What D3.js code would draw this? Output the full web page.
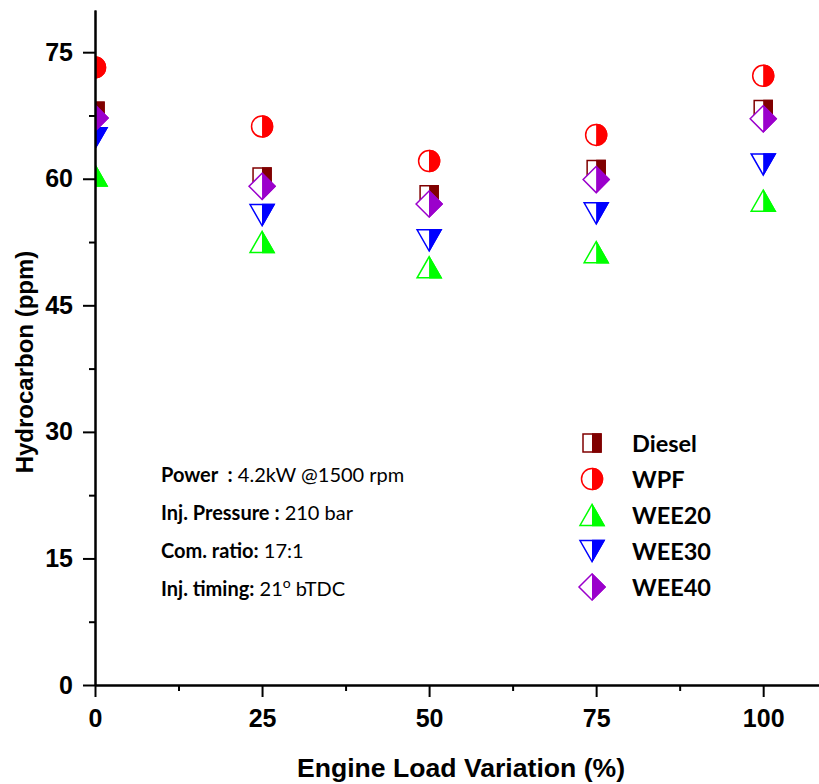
<!DOCTYPE html>
<html>
<head>
<meta charset="utf-8">
<script src="https://cdn.jsdelivr.net/npm/d3@7"></script>
<style>
  body { margin: 0; background: #fff; }
  .axis path, .axis line { stroke: #000; stroke-width: 2; }
  .axis text { font-family: "Liberation Sans", Arial, sans-serif; font-weight: bold; font-size: 25px; fill: #000; }
</style>
</head>
<body>
<div id="chart"></div>
<script>
// engine load (%) on x, hydrocarbon (ppm) on y
var loads = [0, 25, 50, 75, 100];
var diesel = [68.0, 60.2, 58.1, 61.1, 68.2];
var wpf    = [73.2, 66.2, 62.1, 65.2, 72.2];
var wee20  = [60.4, 52.5, 49.5, 51.3, 57.4];
var wee30  = [64.8, 55.7, 52.7, 55.9, 61.7];
var wee40  = [67.2, 59.1, 57.0, 59.9, 67.1];

var seriesNames = ["Diesel", "WPF", "WEE20", "WEE30", "WEE40"];
var seriesValues = [diesel, wpf, wee20, wee30, wee40];
var xTicks = [0, 25, 50, 75, 100];
var yTicks = [0, 15, 30, 45, 60, 75];

var colors = ["#800000", "#ff0000", "#00ff00", "#0000ff", "#9b00cc"];
var shapes = {
  Diesel: "M-9,-9H9V9H-9Z",
  WPF: d3.symbol(d3.symbolCircle, Math.PI * 10.5 * 10.5)(),
  WEE20: "M0,-10.5L12,10.5L-12,10.5Z",
  WEE30: "M0,10.5L12,-10.5L-12,-10.5Z",
  WEE40: "M0,-13L13,0L0,13L-13,0Z"
};

var W = 819, H = 784;
var svg = d3.select("#chart").append("svg")
    .attr("width", W)
    .attr("height", H);

var x = d3.scaleLinear().domain([0, 110]).range([95, 830]);
var y = d3.scaleLinear().domain([0, 80]).range([685, 10]);

var defs = svg.append("defs");
defs.append("clipPath").attr("id", "plotclip")
  .append("rect")
    .attr("x", x(0)).attr("y", y(80))
    .attr("width", W - x(0)).attr("height", y(0) - y(80));
// right half of each marker is filled
defs.append("clipPath").attr("id", "righthalf")
  .append("rect")
    .attr("x", 0).attr("y", -20).attr("width", 20).attr("height", 40);

function drawMarker(g, name, color) {
  g.append("path")
    .attr("d", shapes[name])
    .attr("fill", "#fff")
    .attr("stroke", color)
    .attr("stroke-width", 1.5);
  g.append("path")
    .attr("d", shapes[name])
    .attr("fill", color)
    .attr("stroke", color)
    .attr("stroke-width", 1.5)
    .attr("clip-path", "url(#righthalf)");
}

// points
var plot = svg.append("g").attr("clip-path", "url(#plotclip)");
seriesNames.forEach(function(name, i) {
  seriesValues[i].forEach(function(v, j) {
    var g = plot.append("g")
      .attr("transform", "translate(" + x(loads[j]) + "," + y(v) + ")");
    drawMarker(g, name, colors[i]);
  });
});

// minor ticks
svg.append("g")
    .attr("class", "axis")
    .attr("transform", "translate(0," + y(0) + ")")
    .call(d3.axisBottom(x).tickValues([12.5, 37.5, 62.5, 87.5]).tickSize(6).tickSizeOuter(0).tickFormat(""));
svg.append("g")
    .attr("class", "axis")
    .attr("transform", "translate(" + x(0) + ",0)")
    .call(d3.axisLeft(y).tickValues([7.5, 22.5, 37.5, 52.5, 67.5]).tickSize(6).tickSizeOuter(0).tickFormat(""));

// major axes
svg.append("g")
    .attr("class", "axis")
    .attr("transform", "translate(0," + y(0) + ")")
    .call(d3.axisBottom(x).tickValues(xTicks).tickSize(12).tickPadding(12).tickSizeOuter(0));
svg.append("g")
    .attr("class", "axis")
    .attr("transform", "translate(" + x(0) + ",0)")
    .call(d3.axisLeft(y).tickValues(yTicks).tickSize(12).tickPadding(10).tickSizeOuter(0));

// axis titles
svg.append("text")
    .attr("x", 461)
    .attr("y", 777)
    .attr("text-anchor", "middle")
    .style("font-family", "Liberation Sans, Arial, sans-serif")
    .style("font-weight", "bold")
    .style("font-size", "26.6px")
    .text("Engine Load Variation (%)");

svg.append("text")
    .attr("transform", "translate(33,362) rotate(-90)")
    .attr("text-anchor", "middle")
    .style("font-family", "Liberation Sans, Arial, sans-serif")
    .style("font-weight", "bold")
    .style("font-size", "24px")
    .text("Hydrocarbon (ppm)");

// legend
var legend = svg.append("g");
seriesNames.forEach(function(name, i) {
  var base = 452 + i * 36;
  var g = legend.append("g").attr("transform", "translate(592," + (base - 9) + ")");
  drawMarker(g, name, colors[i]);
  legend.append("text")
      .attr("x", 632)
      .attr("y", base)
      .style("font-family", "Lato, sans-serif")
      .style("font-weight", "bold")
      .style("font-size", "23.5px")
      .text(name);
});

// test conditions
var notes = [
  ["Power  :", " 4.2kW @1500 rpm"],
  ["Inj. Pressure :", " 210 bar"],
  ["Com. ratio:", " 17:1"],
  ["Inj. timing:", " 21", "o", " bTDC"]
];
notes.forEach(function(n, i) {
  var t = svg.append("text")
      .attr("x", 161)
      .attr("y", 482 + i * 38)
      .style("font-family", "Lato, sans-serif")
      .style("font-size", "20px")
      .attr("xml:space", "preserve");
  t.append("tspan").style("font-weight", "bold").text(n[0]);
  t.append("tspan").text(n[1]);
  if (n.length > 2) {
    t.append("tspan").attr("dy", -8).style("font-size", "14px").text(n[2]);
    t.append("tspan").attr("dy", 8).text(n[3]);
  }
});
</script>
</body>
</html>
